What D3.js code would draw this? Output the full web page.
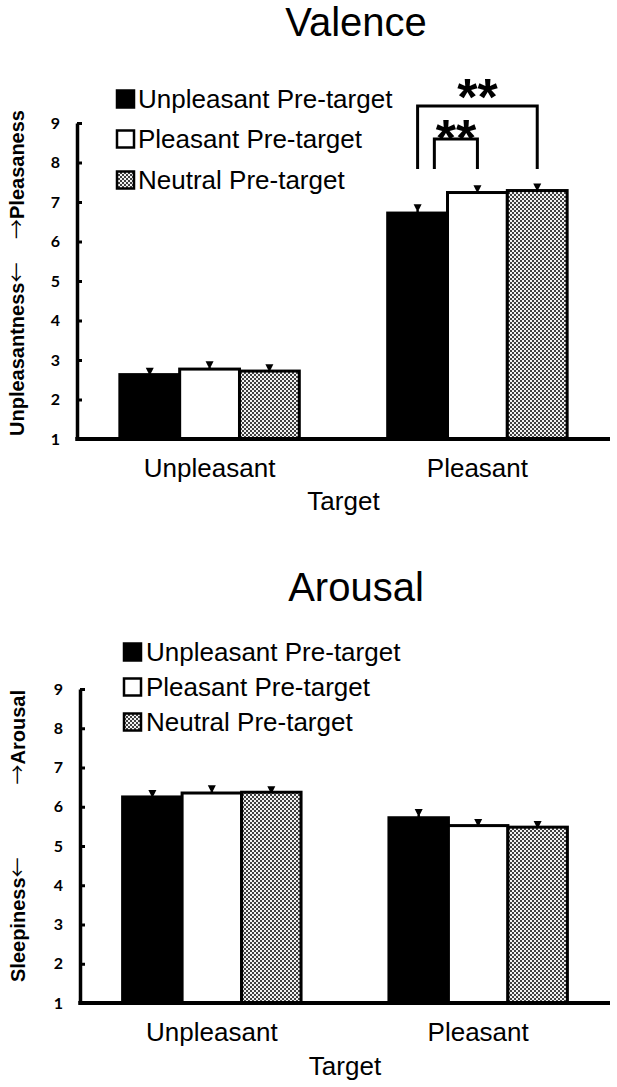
<!DOCTYPE html>
<html><head>
<meta charset="utf-8">
<script src="https://cdn.jsdelivr.net/npm/d3@7"></script>
<style>
  body { margin: 0; background: #fff; }
  text { font-family: "Liberation Sans", Arial, sans-serif; fill: #000; }
  .ylab { font-weight: bold; font-size: 20px; }
  .arrow { font-family: "Noto Sans CJK JP", "DejaVu Sans", sans-serif; font-weight: normal; }
</style>
</head>
<body>
<svg id="fig" width="617" height="1087"></svg>
<script>
// categories
var targets = ["Unpleasant", "Pleasant"];
var preTargets = ["Unpleasant Pre-target", "Pleasant Pre-target", "Neutral Pre-target"];
var yTicks = [1, 2, 3, 4, 5, 6, 7, 8, 9];

// means / SE, rows = target, cols = pre-target
var valenceMeans  = [[2.63, 2.77, 2.72], [6.72, 7.24, 7.29]];
var valenceErrors = [[0.15, 0.17, 0.15], [0.20, 0.16, 0.15]];
var arousalMeans  = [[6.25, 6.35, 6.37], [5.72, 5.52, 5.48]];
var arousalErrors = [[0.15, 0.17, 0.13], [0.20, 0.14, 0.13]];

// significance brackets (valence, pleasant target only)
var valenceSig = [
  { target: "Pleasant", from: "Unpleasant Pre-target", to: "Pleasant Pre-target", label: "**" },
  { target: "Pleasant", from: "Unpleasant Pre-target", to: "Neutral Pre-target", label: "**" }
];

var svg = d3.select("#fig");
svg.append("rect").attr("width", 617).attr("height", 1087).attr("fill", "#fff");

var defs = svg.append("defs");
var pat = defs.append("pattern").attr("id", "checker")
    .attr("width", 4).attr("height", 4).attr("patternUnits", "userSpaceOnUse");
pat.append("rect").attr("width", 4).attr("height", 4).attr("fill", "#f2f2f2");
pat.append("rect").attr("width", 2).attr("height", 2).attr("fill", "#404040");
pat.append("rect").attr("x", 2).attr("y", 2).attr("width", 2).attr("height", 2).attr("fill", "#404040");

var fills = ["#000", "#fff", "url(#checker)"];

// writes "word" plus a full-width arrow before/after it
function arrowLabel(sel, word, arrow, arrowFirst) {
  if (arrowFirst) sel.append("tspan").attr("class", "arrow").text(arrow);
  sel.append("tspan").text(word);
  if (!arrowFirst) sel.append("tspan").attr("class", "arrow").text(arrow);
}

function drawChart(cfg) {
  var L = cfg.layout;
  var g = svg.append("g");

  var x = d3.scaleBand().domain(targets).range([L.left, L.right])
      .paddingInner(0.33).paddingOuter(0.16);
  var xs = d3.scaleBand().domain(preTargets).range([0, x.bandwidth()]);
  var y = d3.scaleLinear().domain([1, 9]).range([L.y1, L.y9]);

  g.append("text")
      .attr("x", L.titleX).attr("y", L.titleY)
      .attr("text-anchor", "middle")
      .style("font-size", "40px")
      .text(cfg.title);

  // legend
  var leg = g.selectAll("g.leg").data(preTargets).join("g").attr("class", "leg")
      .attr("transform", function(d, i) { return "translate(0," + L.legRows[i] + ")"; });
  leg.append("rect")
      .attr("x", L.legX).attr("y", -8.5).attr("width", 17).attr("height", 17)
      .attr("fill", function(d, i) { return fills[i]; })
      .attr("stroke", "#000").attr("stroke-width", 2.5);
  leg.append("text")
      .attr("x", L.legTextX).attr("y", 9)
      .style("font-size", "26px")
      .text(function(d) { return d; });

  // bars
  var rows = [];
  targets.forEach(function(t, i) {
    preTargets.forEach(function(p, j) {
      rows.push({ t: t, p: p, j: j, m: cfg.means[i][j], e: cfg.errors[i][j] });
    });
  });

  g.selectAll("rect.bar").data(rows).join("rect").attr("class", "bar")
      .attr("x", function(d) { return x(d.t) + xs(d.p); })
      .attr("width", xs.bandwidth())
      .attr("y", function(d) { return y(d.m); })
      .attr("height", function(d) { return y(1) - y(d.m); })
      .attr("fill", function(d) { return fills[d.j]; })
      .attr("stroke", "#000").attr("stroke-width", 3);

  // error bars: upper half only, little wedge cap
  var eb = g.selectAll("g.err").data(rows).join("g").attr("class", "err");
  eb.append("line")
      .attr("x1", function(d) { return x(d.t) + xs(d.p) + xs.bandwidth() / 2; })
      .attr("x2", function(d) { return x(d.t) + xs(d.p) + xs.bandwidth() / 2; })
      .attr("y1", function(d) { return y(d.m); })
      .attr("y2", function(d) { return y(d.m + d.e); })
      .attr("stroke", "#000").attr("stroke-width", 2.5);
  eb.append("path")
      .attr("d", function(d) {
        var cx = x(d.t) + xs(d.p) + xs.bandwidth() / 2, cy = y(d.m + d.e);
        return "M" + (cx - 4) + "," + (cy - 1) + "H" + (cx + 4) + "L" + (cx + 1.5) + "," + (cy + 4) +
               "H" + (cx - 1.5) + "Z";
      })
      .attr("fill", "#000");

  // y axis
  var ya = g.append("g").attr("transform", "translate(" + L.left + ",0)")
      .call(d3.axisLeft(y).tickValues(yTicks).tickSize(-5).tickSizeOuter(0)
            .tickPadding(17).tickFormat(d3.format("d")));
  ya.select(".domain").attr("stroke-width", 3.5);
  ya.selectAll(".tick line").attr("stroke-width", 3);
  ya.selectAll(".tick text")
      .style("font-family", "Lato, 'Open Sans', sans-serif")
      .style("font-weight", "bold").style("font-size", "16px");

  // x axis
  var xa = g.append("g").attr("transform", "translate(0," + y(1) + ")")
      .call(d3.axisBottom(x).tickSize(0).tickPadding(20));
  xa.select(".domain").remove();
  xa.selectAll(".tick text").style("font-size", "26px")
      .style("font-family", "'Liberation Sans', Arial, sans-serif");
  g.append("line")
      .attr("x1", L.left - 1.75).attr("x2", L.right)
      .attr("y1", y(1)).attr("y2", y(1))
      .attr("stroke", "#000").attr("stroke-width", 4);

  g.append("text")
      .attr("x", (L.left + L.right) / 2).attr("y", y(1) + L.xTitleGap)
      .attr("text-anchor", "middle")
      .style("font-size", "26px")
      .text("Target");

  // y axis title in two pieces (arrows pointing apart)
  arrowLabel(g.append("text").attr("class", "ylab")
      .attr("transform", "translate(" + L.ylabX + "," + L.ylabLow + ") rotate(-90)")
      .attr("text-anchor", "start"), cfg.yLow, "\u2190", false);
  arrowLabel(g.append("text").attr("class", "ylab")
      .attr("transform", "translate(" + L.ylabX + "," + L.ylabHigh + ") rotate(-90)")
      .attr("text-anchor", "end"), cfg.yHigh, "\u2192", true);

  // significance brackets
  (cfg.sig || []).forEach(function(s, k) {
    var lv = L.sigLevels[k];
    var x1 = x(s.target) + xs(s.from) + xs.bandwidth() * lv.fromOff;
    var x2 = x(s.target) + xs(s.to) + xs.bandwidth() / 2;
    g.append("path")
        .attr("d", "M" + x1 + "," + L.sigLegBottom + "V" + lv.top + "H" + x2 + "V" + L.sigLegBottom)
        .attr("fill", "none").attr("stroke", "#000").attr("stroke-width", 3);
    g.append("text")
        .attr("x", (x1 + x2) / 2).attr("y", lv.starBase)
        .attr("text-anchor", "middle")
        .style("font-size", "52px").style("font-weight", "bold")
        .text(s.label);
  });
}

drawChart({
  title: "Valence",
  means: valenceMeans, errors: valenceErrors,
  yLow: "Unpleasantness", yHigh: "Pleasaness",
  sig: valenceSig,
  layout: {
    left: 77, right: 610, y1: 439, y9: 123,
    titleX: 356, titleY: 36,
    legRows: [99, 139, 180], legX: 117, legTextX: 138,
    xTitleGap: 71,
    ylabX: 24, ylabLow: 436, ylabHigh: 110,
    sigLegBottom: 169,
    sigLevels: [{ fromOff: 0.78, top: 139, starBase: 156 }, { fromOff: 0.5, top: 106, starBase: 115 }]
  }
});

drawChart({
  title: "Arousal",
  means: arousalMeans, errors: arousalErrors,
  yLow: "Sleepiness", yHigh: "Arousal",
  layout: {
    left: 80, right: 610, y1: 1003, y9: 689,
    titleX: 356, titleY: 601,
    legRows: [652, 687, 722], legX: 124, legTextX: 146,
    xTitleGap: 72,
    ylabX: 25, ylabLow: 982, ylabHigh: 690
  }
});
</script>
</body></html>
